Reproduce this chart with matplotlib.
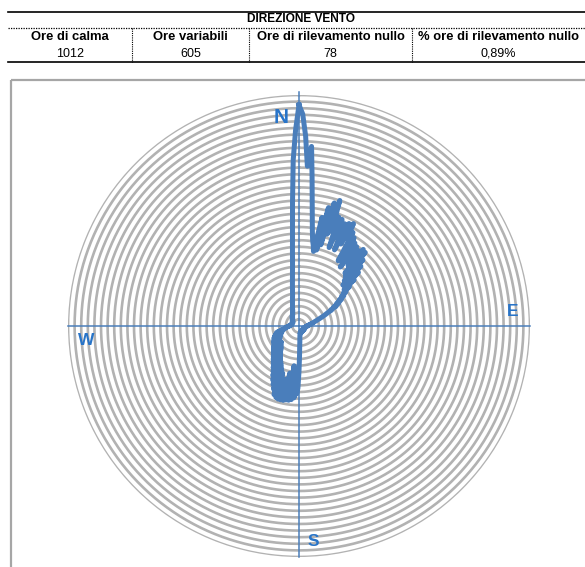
import numpy as np
import matplotlib
matplotlib.use('Agg')
import matplotlib.pyplot as plt
from matplotlib.patches import Rectangle

plt.rcParams['font.family'] = ['Liberation Sans', 'DejaVu Sans']

# tabella riepilogativa
titolo = 'DIREZIONE VENTO'
intestazioni = ['Ore di calma', 'Ore variabili', 'Ore di rilevamento nullo', '% ore di rilevamento nullo']
valori = ['1012', '605', '78', '0,89%']

# frequenza per grado di provenienza (0 = Nord, senso orario)
gradi = np.arange(360)
frequenza = [
    221, 212, 190, 160, 180, 150, 126, 108, 96, 87,       # 0-9
    82, 76, 111, 78, 122, 84, 128, 96, 132, 100,         # 10-19
    116, 84, 115, 96, 112, 84, 114, 92, 116, 100,        # 20-29
    108, 76, 104, 78, 100, 72, 98, 80, 96, 78,           # 30-39
    100, 70, 99, 68, 92, 64, 86, 60, 80, 62,             # 40-49
    72, 58, 64, 56, 58, 52, 54, 48, 50, 44,              # 50-59
    46, 40, 42, 36, 36, 32, 30, 28, 26, 24,              # 60-69
    22, 20, 19, 18, 17, 16, 15, 14, 14, 13,              # 70-79
    12, 12, 11, 11, 10, 10, 9, 9, 9, 8,                  # 80-89
    8, 8, 8, 7, 7, 7, 7, 7, 7, 7,                        # 90-99
    6, 6, 6, 6, 6, 6, 6, 6, 6, 6,                        # 100-109
    6, 6, 5, 6, 6, 5, 6, 6, 6, 5,                        # 110-119
    6, 6, 5, 6, 6, 6, 5, 6, 6, 6,                        # 120-129
    6, 5, 6, 6, 6, 5, 6, 6, 6, 6,                        # 130-139
    5, 6, 6, 6, 5, 6, 6, 6, 6, 5,                        # 140-149
    6, 6, 6, 5, 6, 6, 6, 6, 6, 6,                        # 150-159
    6, 6, 6, 7, 6, 7, 7, 7, 7, 7,                        # 160-169
    7, 7, 8, 8, 9, 10, 12, 16, 20, 30,                   # 170-179
    45, 62, 68, 50, 72, 45, 74, 40, 75, 55,              # 180-189
    75, 48, 76, 60, 76, 55, 76, 58, 75, 50,              # 190-199
    73, 48, 68, 45, 64, 42, 60, 40, 56, 38,              # 200-209
    52, 36, 49, 34, 46, 32, 44, 30, 42, 28,              # 210-219
    40, 28, 38, 26, 37, 26, 35, 24, 34, 24,              # 220-229
    33, 25, 32, 24, 31, 24, 30, 23, 30, 22,              # 230-239
    29, 22, 28, 21, 28, 20, 27, 20, 26, 19,              # 240-249
    25, 18, 24, 18, 23, 17, 20, 16, 18, 15,              # 250-259
    15, 14, 14, 13, 13, 12, 12, 11, 11, 10,              # 260-269
    10, 10, 9, 9, 9, 9, 8, 8, 8, 8,                      # 270-279
    8, 8, 8, 7, 7, 7, 7, 7, 7, 7,                        # 280-289
    7, 7, 7, 7, 7, 7, 7, 7, 7, 7,                        # 290-299
    7, 7, 8, 8, 8, 8, 8, 8, 8, 8,                        # 300-309
    8, 9, 9, 9, 9, 9, 9, 10, 10, 10,                     # 310-319
    10, 10, 11, 11, 11, 12, 12, 12, 12, 13,              # 320-329
    13, 13, 14, 14, 15, 15, 16, 16, 17, 18,              # 330-339
    19, 20, 21, 22, 24, 25, 27, 29, 31, 34,              # 340-349
    37, 42, 47, 53, 62, 75, 93, 124, 166, 196,           # 350-359
]

punti_cardinali = ['N', 'E', 'S', 'W']

r_max = 231
n_cerchi = 35
blu = '#4a7ebb'
blu_testo = '#2874c8'

fig = plt.figure(figsize=(5.85, 5.67), dpi=100)

# sfondo in coordinate pixel per tabella e cornice
bg = fig.add_axes([0, 0, 1, 1])
bg.set_xlim(0, 585)
bg.set_ylim(567, 0)
bg.axis('off')
bg.set_zorder(0)

# tabella
bordi = [8, 132, 249, 412, 585]
centri = [(a + b) / 2 for a, b in zip(bordi[:-1], bordi[1:])]
bg.plot([8, 585], [12, 12], color='black', lw=1.2)
bg.plot([8, 585], [27.5, 27.5], color='black', lw=0.9, ls=(0, (1, 1)))
bg.plot([8, 585], [62, 62], color='black', lw=1.2)
for xs in bordi[1:-1]:
    bg.plot([xs, xs], [27.5, 62], color='black', lw=0.8, ls=(0, (1, 1)))
bg.text(301, 19, titolo, ha='center', va='center', fontsize=8.6, fontweight='bold')
for xc, h, v in zip(centri, intestazioni, valori):
    bg.text(xc, 37.5, h, ha='center', va='center', fontsize=9.4, fontweight='bold')
    bg.text(xc, 54, v, ha='center', va='center', fontsize=9)

# cornice del grafico
bg.add_patch(Rectangle((11, 80), 620, 600, fill=False, edgecolor='#a6a6a6', lw=1.6))

# rosa dei venti
ax = fig.add_axes([68 / 585, 10 / 567, 462 / 585, 462 / 567], projection='polar')
ax.set_zorder(1)
ax.patch.set_visible(False)
ax.set_theta_zero_location('N')
ax.set_theta_direction(-1)
ax.set_ylim(0, r_max)
ax.axis('off')

giro = np.linspace(0, 2 * np.pi, 721)
for k in range(1, n_cerchi + 1):
    ax.plot(giro, np.full_like(giro, r_max * k / n_cerchi), color='#b2b2b2', lw=1.9, zorder=1)

# assi cardinali
for ang, lung in zip([0, 90, 180, 270], [234, r_max, r_max, r_max]):
    t = np.radians(ang)
    ax.plot([t, t], [0, lung], color=blu, lw=1.1, zorder=2, clip_on=False)

# curva delle frequenze
theta = np.radians(np.append(gradi, gradi[0]))
rr = np.append(frequenza, frequenza[0])
ax.plot(theta, rr, color=blu, lw=3.6, solid_joinstyle='round', zorder=3)

# etichette dei punti cardinali
pos_etichette = {'N': (355.2, 209, 15), 'E': (86.1, 214, 12.5),
                 'S': (176.2, 216, 12.5), 'W': (266.2, 213, 12.5)}
for p in punti_cardinali:
    ang, rad, fs = pos_etichette[p]
    ax.text(np.radians(ang), rad, p, ha='center', va='center', fontsize=fs,
            fontweight='bold', color=blu_testo, zorder=4)

fig.savefig('out.png', dpi=100)
